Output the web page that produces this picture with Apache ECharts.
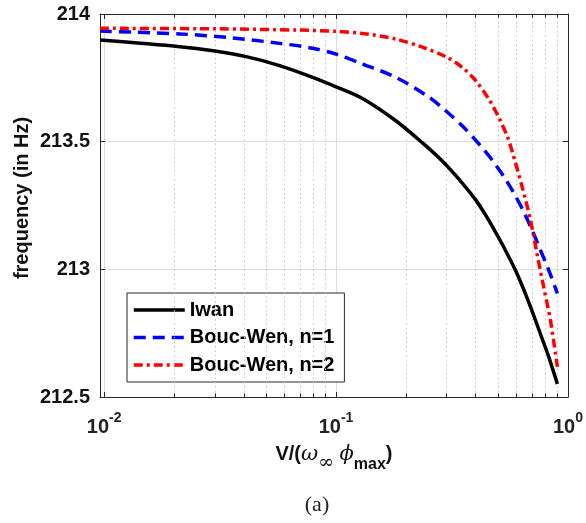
<!DOCTYPE html>
<html><head><meta charset="utf-8">
<script src="https://cdn.jsdelivr.net/npm/echarts@6/dist/echarts.min.js"></script>
<style>html,body{margin:0;padding:0;background:#fff}#c{width:586px;height:523px}</style>
</head><body><div id="c"></div>
<script>
// ---- data ----
const xAxisMin = 0.0096, xAxisMax = 1;
const yAxisMin = 212.5, yAxisMax = 214, yStep = 0.5;
const minorXTicks = [0.02,0.03,0.04,0.05,0.06,0.07,0.08,0.09,0.2,0.3,0.4,0.5,0.6,0.7,0.8,0.9];

const seriesNames = ['Iwan', 'Bouc-Wen, n=1', 'Bouc-Wen, n=2'];

const xIwan = [0.0096, 0.0212, 0.0295, 0.041, 0.0571, 0.0793, 0.1, 0.13, 0.181, 0.236, 0.287, 0.35, 0.4, 0.441, 0.487, 0.52, 0.593, 0.677, 0.772, 0.826, 0.9];
const yIwan = [213.898, 213.872, 213.856, 213.833, 213.798, 213.752, 213.715, 213.669, 213.582, 213.495, 213.424, 213.338, 213.272, 213.213, 213.146, 213.099, 212.997, 212.872, 212.731, 212.657, 212.551];

const xBW1 = [0.0096, 0.0212, 0.0359, 0.0571, 0.0793, 0.1, 0.13, 0.181, 0.252, 0.297, 0.35, 0.413, 0.471, 0.529, 0.584, 0.644, 0.7, 0.76, 0.826, 0.9];
const yBW1 = [213.933, 213.922, 213.906, 213.885, 213.866, 213.843, 213.804, 213.752, 213.674, 213.621, 213.562, 213.491, 213.428, 213.363, 213.299, 213.226, 213.154, 213.076, 212.997, 212.906];

const xBW2 = [0.0096, 0.03, 0.0695, 0.1, 0.13, 0.181, 0.2356, 0.297, 0.35, 0.4, 0.456, 0.503, 0.546, 0.574, 0.634, 0.689, 0.735, 0.785, 0.84, 0.9];
const yBW2 = [213.944, 213.942, 213.937, 213.932, 213.924, 213.902, 213.870, 213.833, 213.791, 213.739, 213.666, 213.595, 213.523, 213.463, 213.324, 213.193, 213.062, 212.932, 212.801, 212.618];

// ---- chart ----
const pairs = (xs, ys) => xs.map((x, i) => [x, ys[i]]);
const axisColor = '#262626';
const FONT = 'Liberation Sans, Arial, sans-serif';
const tickLenMinor = 0.014;

const minorGrid = minorXTicks.map(v => ({ xAxis: v }));
const minorTickMarks = [];
minorXTicks.forEach(v => {
  minorTickMarks.push([{ coord: [v, yAxisMin] }, { coord: [v, yAxisMin + tickLenMinor] }]);
  minorTickMarks.push([{ coord: [v, yAxisMax] }, { coord: [v, yAxisMax - tickLenMinor] }]);
});

const chart = echarts.init(document.getElementById('c'), null, { renderer: 'canvas' });
const xCommon = { type: 'log', logBase: 10, min: xAxisMin, max: xAxisMax, gridIndex: 0 };
const yCommon = { type: 'value', min: yAxisMin, max: yAxisMax, interval: yStep, gridIndex: 0 };

chart.setOption({
  animation: false,
  backgroundColor: '#fff',
  textStyle: { fontFamily: FONT },
  grid: { left: 100, right: 16.5, top: 14, bottom: 126 },
  xAxis: [
    Object.assign({}, xCommon, {
      position: 'bottom',
      axisLine: { show: true, lineStyle: { color: axisColor, width: 1 } },
      axisTick: { show: true, inside: true, length: 5, lineStyle: { color: axisColor } },
      splitLine: { show: true, lineStyle: { color: '#dcdcdc', width: 1 } },
      axisLabel: {
        show: true, showMinLabel: false, margin: 14, color: '#000',
        formatter: v => '{b|10}{s|' + Math.round(Math.log10(v)) + '}',
        rich: {
          b: { fontSize: 20, fontWeight: 'bold', fontFamily: FONT, color: '#222', lineHeight: 26, verticalAlign: 'bottom' },
          s: { fontSize: 14, fontWeight: 'bold', fontFamily: FONT, color: '#222', lineHeight: 14, verticalAlign: 'top' }
        }
      },
      name: '{t|V/(}{i|ω}{sub|∞}{t| }{i|ϕ}{subb|max}{t|)}',
      nameLocation: 'middle',
      nameGap: 47,
      nameTextStyle: {
        rich: {
          t: { fontSize: 20, fontWeight: 'bold', fontFamily: FONT, color: '#111', lineHeight: 29, verticalAlign: 'top' },
          i: { fontSize: 21, fontStyle: 'italic', fontFamily: 'DejaVu Serif, serif', color: '#111', lineHeight: 29, verticalAlign: 'top' },
          sub: { fontSize: 19, fontFamily: 'DejaVu Serif, serif', color: '#111', lineHeight: 16, verticalAlign: 'bottom' },
          subb: { fontSize: 16, fontWeight: 'bold', fontFamily: FONT, color: '#111', lineHeight: 16, verticalAlign: 'bottom' }
        }
      }
    }),
    Object.assign({}, xCommon, {
      position: 'top',
      axisLine: { show: true, lineStyle: { color: axisColor, width: 1 } },
      axisTick: { show: true, inside: true, length: 5, lineStyle: { color: axisColor } },
      splitLine: { show: false },
      axisLabel: { show: false }
    })
  ],
  yAxis: [
    Object.assign({}, yCommon, {
      position: 'left',
      axisLine: { show: true, lineStyle: { color: axisColor, width: 1 } },
      axisTick: { show: true, inside: true, length: 5, lineStyle: { color: axisColor } },
      splitLine: { show: true, lineStyle: { color: '#dcdcdc', width: 1 } },
      axisLabel: { show: true, margin: 10, color: '#111', fontSize: 20, fontWeight: 'bold', fontFamily: FONT }
    }),
    Object.assign({}, yCommon, {
      position: 'right',
      axisLine: { show: true, lineStyle: { color: axisColor, width: 1 } },
      axisTick: { show: true, inside: true, length: 5, lineStyle: { color: axisColor } },
      splitLine: { show: false },
      axisLabel: { show: false }
    })
  ],
  legend: {
    data: seriesNames,
    orient: 'vertical',
    left: 127, top: 293,
    padding: [7, 10, 7, 5],
    itemWidth: 51, itemHeight: 14, itemGap: 7.5,
    backgroundColor: '#fff',
    borderColor: '#262626', borderWidth: 1,
    itemStyle: { opacity: 0 },
    lineStyle: { width: 3.5 },
    textStyle: { fontSize: 20, fontWeight: 'bold', fontFamily: FONT, color: '#000', padding: [0, 0, 0, 0] },
    selectedMode: false
  },
  graphic: [
    { type: 'text', x: 22, y: 198, rotation: Math.PI / 2,
      style: { text: 'frequency (in Hz)', font: 'bold 20px ' + FONT, fill: '#111', align: 'center', verticalAlign: 'middle' } },
    { type: 'text', x: 317, y: 505,
      style: { text: '(a)', font: '22px Liberation Serif, Times New Roman, serif', fill: '#222', align: 'center', verticalAlign: 'middle' } }
  ],
  series: [
    {
      name: '_grid', type: 'line', data: [], silent: true, z: 1,
      markLine: {
        silent: true, symbol: 'none', animation: false,
        label: { show: false },
        lineStyle: { color: '#c4c4c4', type: [1.5, 3], width: 1 },
        data: minorGrid
      }
    },
    {
      name: '_ticks', type: 'line', data: [], silent: true, z: 3,
      markLine: {
        silent: true, symbol: 'none', animation: false,
        label: { show: false },
        lineStyle: { color: axisColor, type: 'solid', width: 1 },
        data: minorTickMarks
      }
    },
    {
      name: seriesNames[0], type: 'line', data: pairs(xIwan, yIwan),
      showSymbol: false, symbol: 'none', smooth: 0.3, z: 5,
      lineStyle: { color: '#000', width: 3.5, type: 'solid' },
      itemStyle: { color: '#000' }
    },
    {
      name: seriesNames[1], type: 'line', data: pairs(xBW1, yBW1),
      showSymbol: false, symbol: 'none', smooth: 0.3, z: 5,
      lineStyle: { color: '#0000ff', width: 3.5, type: [12, 7] },
      itemStyle: { color: '#0000ff' }
    },
    {
      name: seriesNames[2], type: 'line', data: pairs(xBW2, yBW2),
      showSymbol: false, symbol: 'none', smooth: 0.3, z: 5,
      lineStyle: { color: '#ff0000', width: 3.5, type: [9, 4, 3, 4] },
      itemStyle: { color: '#ff0000' }
    }
  ]
});
</script>
</body></html>
